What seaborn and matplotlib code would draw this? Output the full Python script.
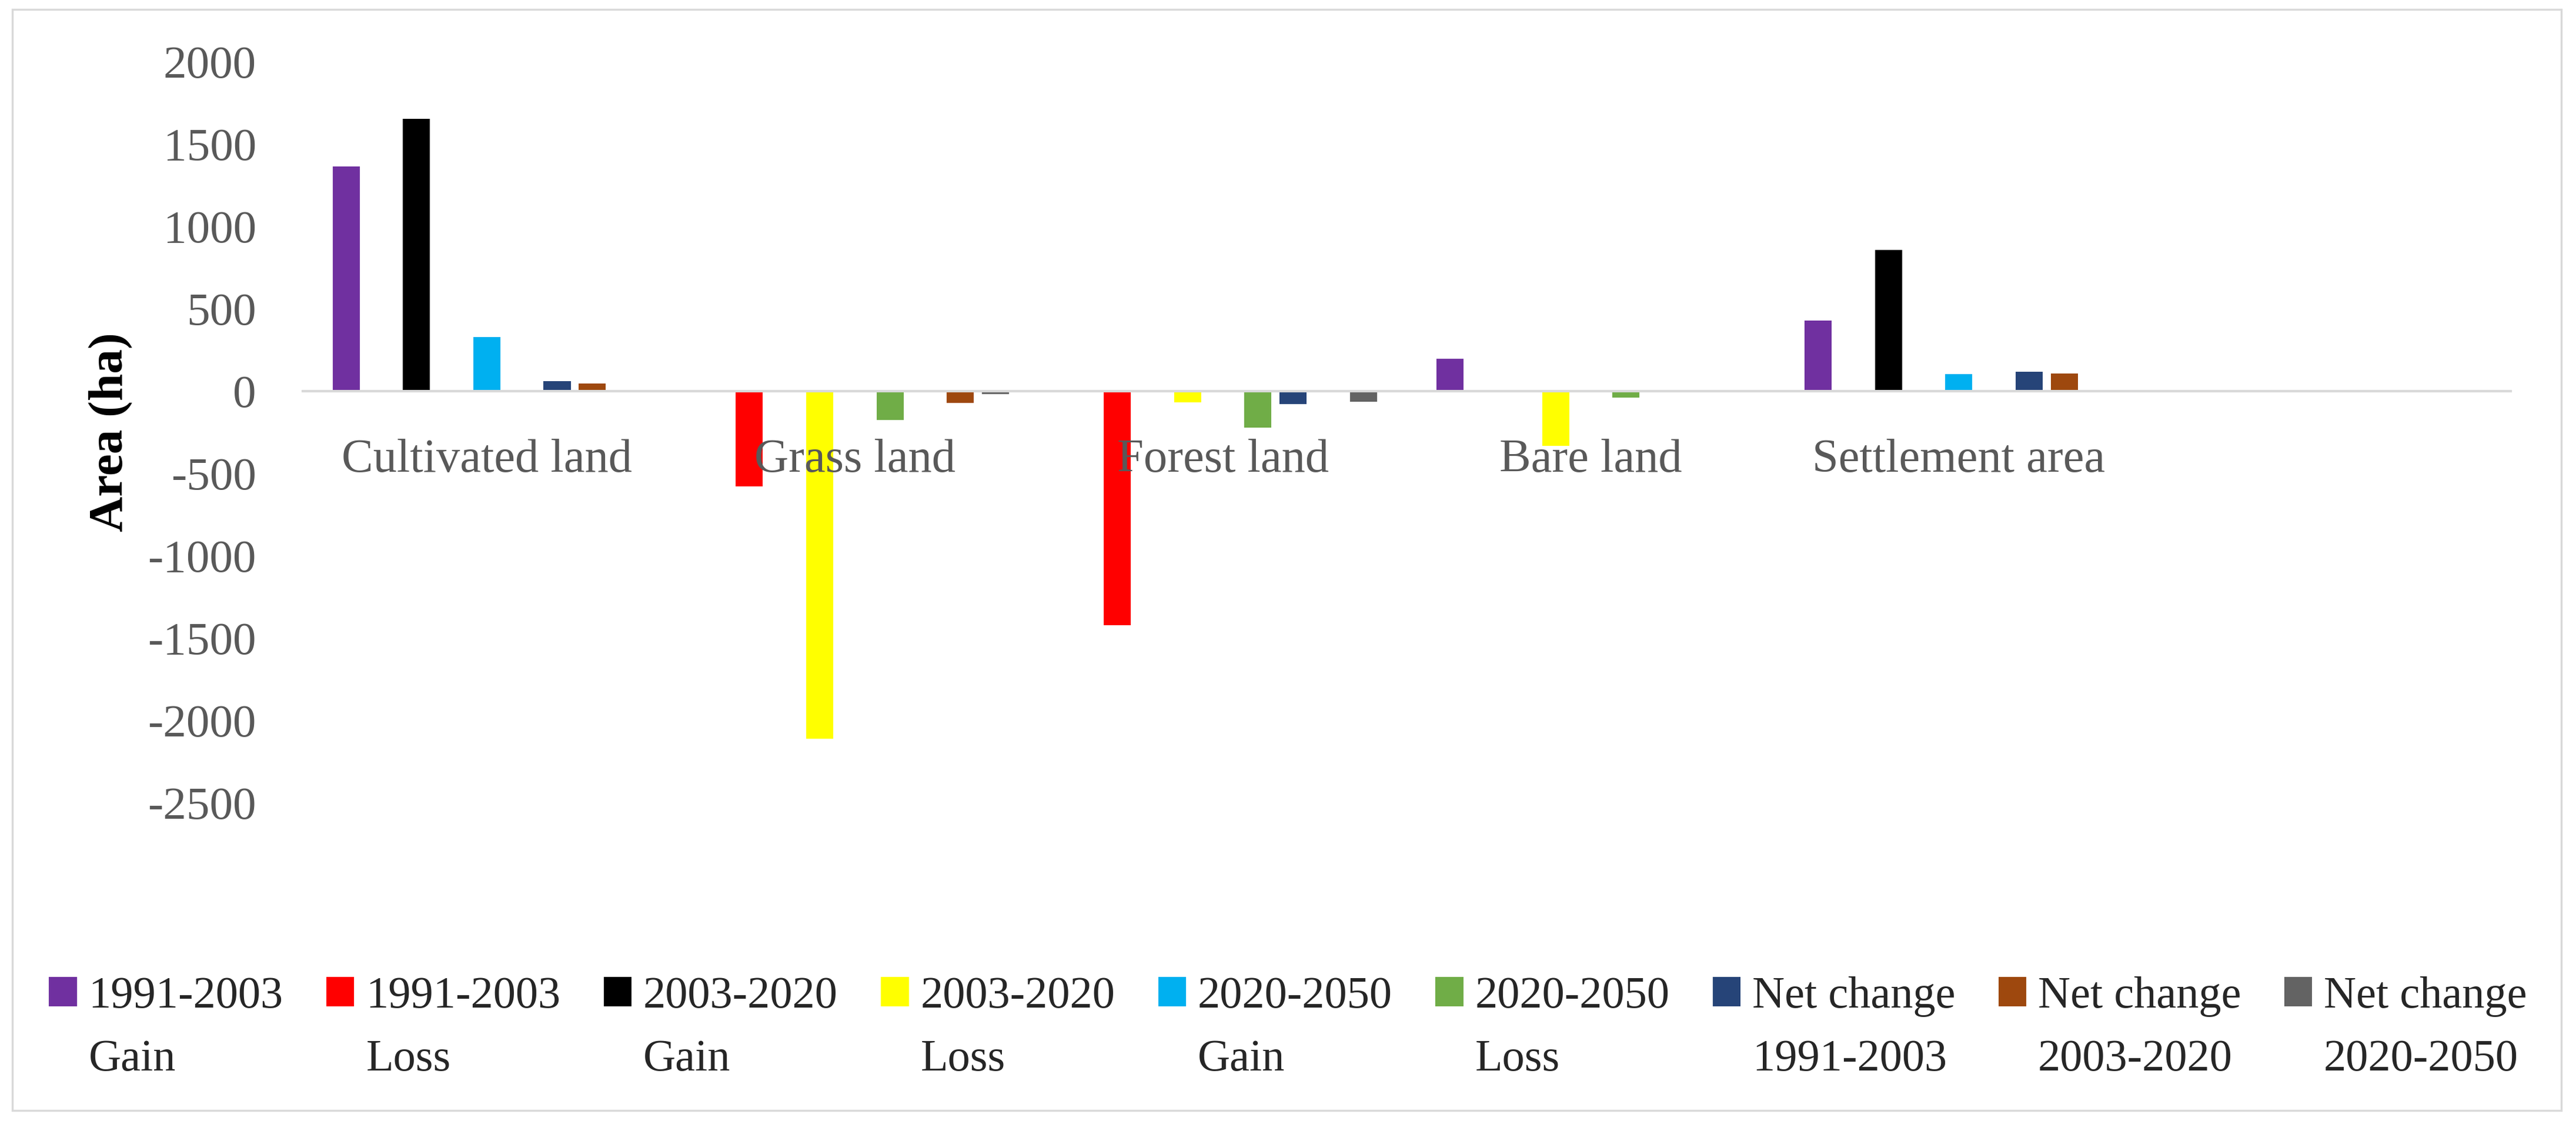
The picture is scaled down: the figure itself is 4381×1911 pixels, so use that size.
import matplotlib
matplotlib.use("Agg")
import pandas as pd
import matplotlib.pyplot as plt
import seaborn as sns
from matplotlib.patches import Rectangle, Patch

# Land cover classes (x axis)
categories = ["Cultivated land", "Grass land", "Forest land", "Bare land", "Settlement area"]

# Legend labels, first and second line
series_line1 = ["1991-2003", "1991-2003", "2003-2020", "2003-2020", "2020-2050",
                "2020-2050", "Net change", "Net change", "Net change"]
series_line2 = ["Gain", "Loss", "Gain", "Loss", "Gain",
                "Loss", "1991-2003", "2003-2020", "2020-2050"]

# Area (ha) for each series, one value per category
gain_1991_2003 = [1365, 0, 0, 198, 430]
loss_1991_2003 = [0, -580, -1420, 0, 0]
gain_2003_2020 = [1652, 0, 0, 0, 858]
loss_2003_2020 = [0, -2112, -67, -332, 0]
gain_2020_2050 = [329, 0, 0, 0, 105]
loss_2020_2050 = [0, -175, -223, -41, 0]
net_1991_2003 = [61, -8, -80, 0, 118]
net_2003_2020 = [45, -70, -8, -8, 108]
net_2020_2050 = [0, -18, -64, 0, 0]

colors = ["#7030A0", "#FF0000", "#000000", "#FFFF00", "#00B0F0",
          "#70AD47", "#264478", "#9E480E", "#636363"]

series_values = [gain_1991_2003, loss_1991_2003, gain_2003_2020, loss_2003_2020,
                 gain_2020_2050, loss_2020_2050, net_1991_2003, net_2003_2020, net_2020_2050]
series_keys = [f"{a} {b}" for a, b in zip(series_line1, series_line2)]

rows = []
for key, vals in zip(series_keys, series_values):
    for cat, v in zip(categories, vals):
        rows.append({"category": cat, "series": key, "value": v})
df = pd.DataFrame(rows)

sns.set_style("white")
plt.rcParams["font.family"] = ["Liberation Serif", "DejaVu Serif"]
plt.rcParams["axes.unicode_minus"] = False

W, H = 4381, 1911
fig = plt.figure(figsize=(W / 100, H / 100), dpi=100)
ax = fig.add_axes([515 / W, 1 - 1365 / H, (4270 - 515) / W, (1365 - 105) / H])

sns.barplot(data=df, x="category", y="value", hue="series", order=categories,
            hue_order=series_keys, palette=colors, saturation=1, width=0.86,
            gap=0.23, linewidth=0, errorbar=None, ax=ax)

ax.set_xlim(-0.5, 5.5)
ax.set_ylim(-2500, 2000)
ax.set_yticks(range(-2500, 2001, 500))
ax.set_axisbelow(False)

for s in ["left", "right", "top"]:
    ax.spines[s].set_visible(False)
ax.spines["bottom"].set_position(("data", 0))
ax.spines["bottom"].set_color("#D9D9D9")
ax.spines["bottom"].set_linewidth(3)

ax.tick_params(axis="x", length=0, pad=58, labelsize=58, labelcolor="#595959")
ax.tick_params(axis="y", length=0, pad=57, labelsize=57, labelcolor="#595959")
ax.set_xlabel("")
ax.set_ylabel("Area (ha)", fontsize=60, fontweight="bold", color="black")
ax.yaxis.set_label_coords((226 - 515) / (4270 - 515), 0.5)

# legend: handle sits next to the first line, second line below it
leg = ax.get_legend()
handles = leg.legend_handles
leg.remove()
blank = Patch(facecolor="none", edgecolor="none")
leg_handles, leg_labels = [], []
for h, l1, l2 in zip(handles, series_line1, series_line2):
    leg_handles += [h, blank]
    leg_labels += [l1, l2]
fig.legend(leg_handles, leg_labels, ncol=9, loc="center",
           bbox_to_anchor=(0.5, 1 - 1748 / H), frameon=False, fontsize=55,
           handlelength=0.62, handleheight=0.62, handletextpad=0.26,
           columnspacing=0.96, labelspacing=0.5, borderpad=0, borderaxespad=0)

# chart border
fig.patches.append(Rectangle((21 / W, 1 - 1888 / H), (4356 - 21) / W, (1888 - 16) / H,
                             transform=fig.transFigure, fill=False,
                             edgecolor="#D9D9D9", linewidth=2.5))

fig.savefig("out.png", dpi=100)
